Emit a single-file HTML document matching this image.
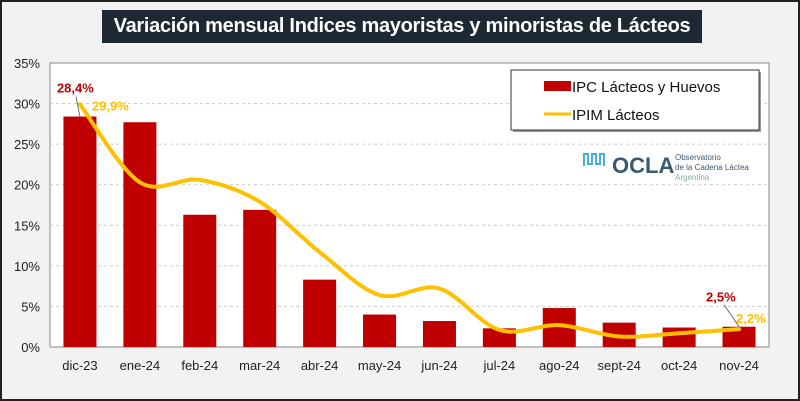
<!DOCTYPE html>
<html><head><meta charset="utf-8"><style>
body{margin:0;background:#fff;}
#wrap{position:relative;width:800px;height:401px;background:#f2f2f2;box-sizing:border-box;border:2px solid #222;font-family:"Liberation Sans",sans-serif;overflow:hidden}
#title{position:absolute;left:100px;top:8px;width:600px;height:33px;background:#1e2833;color:#fff;font-weight:bold;font-size:20px;line-height:33px;text-align:center;white-space:nowrap;letter-spacing:-0.3px}
svg{position:absolute;left:0;top:0}
</style></head><body>
<div id="wrap">
<div id="title">Variación mensual Indices mayoristas y minoristas de Lácteos</div>
<svg id="chart" width="800" height="401"></svg>
</div>
<script>
const categories=["dic-23","ene-24","feb-24","mar-24","abr-24","may-24","jun-24","jul-24","ago-24","sept-24","oct-24","nov-24"];
const ipcValues=[28.4,27.7,16.3,16.9,8.3,4.0,3.2,2.3,4.8,3.0,2.4,2.5];
const ipimValues=[29.9,20.3,20.6,17.9,11.7,6.4,7.2,2.1,2.7,1.3,1.7,2.2];
const yTicks=[0,5,10,15,20,25,30,35];
const NS="http://www.w3.org/2000/svg";
const svg=document.getElementById('chart');
const L=48,R=767,T=61,B=345,maxY=35;
const step=(R-L)/categories.length;
const x=i=>L+step*(i+0.5);
const y=v=>B-(v/maxY)*(B-T);
function mk(t,a,p){const e=document.createElementNS(NS,t);for(const k in a)e.setAttribute(k,a[k]);(p||svg).appendChild(e);return e;}
const plot=mk('rect',{x:L,y:T,width:R-L,height:B-T,fill:'#fff',stroke:'#888','stroke-width':1});


yTicks.forEach(t=>{
  if(t>0&&t<35){const g=mk('line',{x1:L,x2:R,y1:y(t),y2:y(t),stroke:'#ccc','stroke-dasharray':'3,3'});
  
  }
  const tx=mk('text',{x:38,y:y(t)+5,'text-anchor':'end','font-size':13,fill:'#222'});tx.textContent=t+'%';
  
  
});
categories.forEach((c,i)=>{
  const b=mk('rect',{x:x(i)-16.5,y:y(ipcValues[i]),width:33,height:B-y(ipcValues[i]),fill:'#c00000'});
  
  
  const tx=mk('text',{x:x(i),y:368,'text-anchor':'middle','font-size':13,fill:'#222'});tx.textContent=c;
  
  
});
const pts=ipimValues.map((v,i)=>[x(i),y(v)]);
let d='M'+pts[0][0]+','+pts[0][1];
for(let i=0;i<pts.length-1;i++){const p0=pts[i-1]||pts[i],p1=pts[i],p2=pts[i+1],p3=pts[i+2]||p2;
  d+=` C${p1[0]+(p2[0]-p0[0])/6},${p1[1]+(p2[1]-p0[1])/6} ${p2[0]-(p3[0]-p1[0])/6},${p2[1]-(p3[1]-p1[1])/6} ${p2[0]},${p2[1]}`;}
const ln=mk('path',{d:d,fill:'none',stroke:'#ffc000','stroke-width':4,'stroke-linecap':'round'});


const lbl=(t,xx,yy,col,name)=>{const e=mk('text',{x:xx,y:yy,'font-size':13,'font-weight':'bold',fill:col});e.textContent=t;
  
  };
const n=categories.length-1;
mk('line',{x1:x(0)-4,y1:y(ipcValues[0])-20,x2:x(0),y2:y(ipcValues[0]),stroke:'#555','stroke-width':0.8});
lbl(ipcValues[0].toFixed(1).replace('.',',')+'%',x(0)-23,y(ipcValues[0])-24,'#c00000','label-ipc-first');
lbl(ipimValues[0].toFixed(1).replace('.',',')+'%',x(0)+12,y(ipimValues[0])+6,'#ffc000','label-ipim-first');
mk('line',{x1:x(n)-15,y1:y(ipcValues[n])-22,x2:x(n),y2:y(ipcValues[n]),stroke:'#555','stroke-width':0.8});
lbl(ipcValues[n].toFixed(1).replace('.',',')+'%',x(n)-33,y(ipcValues[n])-25,'#c00000','label-ipc-last');
lbl(ipimValues[n].toFixed(1).replace('.',',')+'%',x(n)-3,y(ipimValues[n])-6,'#ffc000','label-ipim-last');
const lg=mk('g',{});
mk('rect',{x:511,y:70,width:248,height:60,fill:'#999'},lg);
mk('rect',{x:509,y:68,width:248,height:60,fill:'#fff',stroke:'#333','stroke-width':1},lg);
mk('rect',{x:542,y:79,width:27,height:10,fill:'#c00000'},lg);
mk('line',{x1:542,x2:569,y1:112,y2:112,stroke:'#ffc000','stroke-width':3},lg);
const t1=mk('text',{x:570,y:90,'font-size':15,fill:'#111'},lg);t1.textContent='IPC Lácteos y Huevos';

const t2=mk('text',{x:570,y:118,'font-size':15,fill:'#111'},lg);t2.textContent='IPIM Lácteos';

const lo=mk('g',{});
mk('path',{d:'M582,164 v-12 h4 v10 h4 v-10 h4 v10 h4 v-10 h4 v12',fill:'none',stroke:'#4ab0d8','stroke-width':2},lo);
const o=mk('text',{x:610,y:171,'font-size':22,'font-weight':'bold',fill:'#3a5a70'},lo);o.textContent='OCLA';
const s1=mk('text',{x:673,y:158,'font-size':8,fill:'#3a5a70'},lo);s1.textContent='Observatorio';
const s2=mk('text',{x:673,y:168,'font-size':8,fill:'#3a5a70'},lo);s2.textContent='de la Cadena Láctea';
const s3=mk('text',{x:673,y:178,'font-size':8,fill:'#8aa'},lo);s3.textContent='Argentina';
</script>
</body></html>
